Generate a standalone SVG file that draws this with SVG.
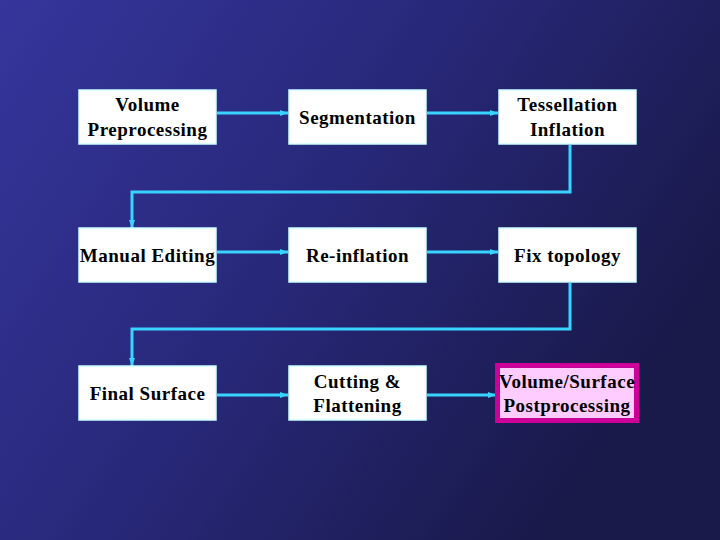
<svg xmlns="http://www.w3.org/2000/svg" width="720" height="540" viewBox="0 0 720 540">
<defs>
<linearGradient id="bg" x1="0" y1="0" x2="1" y2="0.5">
<stop offset="0" stop-color="#35359c"/>
<stop offset="0.5" stop-color="#28287a"/>
<stop offset="1" stop-color="#19194a"/>
</linearGradient>
<marker id="ah" markerWidth="8" markerHeight="6" refX="8" refY="3" orient="auto" markerUnits="userSpaceOnUse">
<path d="M0,0 L8,3 L0,6 Z" fill="#38d4ff"/>
</marker>
<style>
.box{fill:#ffffff;stroke:#ccffff;stroke-width:1.5}
.hl{fill:#ffccff;stroke:#cc0099;stroke-width:5}
.t{font-family:"Liberation Serif","Times New Roman",serif;font-weight:bold;font-size:19px;letter-spacing:0.5px;fill:#000;text-anchor:middle}
.c{fill:none;stroke:#38d4ff;stroke-width:3}
</style>
</defs>
<rect width="720" height="540" fill="url(#bg)"/>
<g id="connectors">
<line class="c" x1="217" y1="113" x2="288" y2="113" marker-end="url(#ah)"/>
<line class="c" x1="427" y1="113" x2="498" y2="113" marker-end="url(#ah)"/>
<polyline class="c" points="570,145 570,192 132,192 132,228" marker-end="url(#ah)"/>
<line class="c" x1="217" y1="252" x2="288" y2="252" marker-end="url(#ah)"/>
<line class="c" x1="427" y1="252" x2="498" y2="252" marker-end="url(#ah)"/>
<polyline class="c" points="570,283 570,329 132,329 132,366" marker-end="url(#ah)"/>
<line class="c" x1="217" y1="395" x2="288" y2="395" marker-end="url(#ah)"/>
<line class="c" x1="427" y1="395" x2="496" y2="395" marker-end="url(#ah)"/>
</g>
<g id="n1"><rect class="box" x="79" y="90" width="137" height="54"/><text class="t" x="147.5" y="111">Volume</text><text class="t" x="147.5" y="136">Preprocessing</text></g>
<g id="n2"><rect class="box" x="289" y="90" width="137" height="54"/><text class="t" x="357.5" y="124">Segmentation</text></g>
<g id="n3"><rect class="box" x="499" y="90" width="137" height="54"/><text class="t" x="567.5" y="111">Tessellation</text><text class="t" x="567.5" y="136">Inflation</text></g>
<g id="n4"><rect class="box" x="79" y="228" width="137" height="54"/><text class="t" x="147.5" y="262">Manual Editing</text></g>
<g id="n5"><rect class="box" x="289" y="228" width="137" height="54"/><text class="t" x="357.5" y="262">Re-inflation</text></g>
<g id="n6"><rect class="box" x="499" y="228" width="137" height="54"/><text class="t" x="567.5" y="262">Fix topology</text></g>
<g id="n7"><rect class="box" x="79" y="366" width="137" height="54"/><text class="t" x="147.5" y="400">Final Surface</text></g>
<g id="n8"><rect class="box" x="289" y="366" width="137" height="54"/><text class="t" x="357.5" y="388">Cutting &amp;</text><text class="t" x="357.5" y="412">Flattening</text></g>
<g id="n9"><rect class="hl" x="497.5" y="365.5" width="139" height="55"/><text class="t" x="567" y="388">Volume/Surface</text><text class="t" x="567" y="412">Postprocessing</text></g>
</svg>
